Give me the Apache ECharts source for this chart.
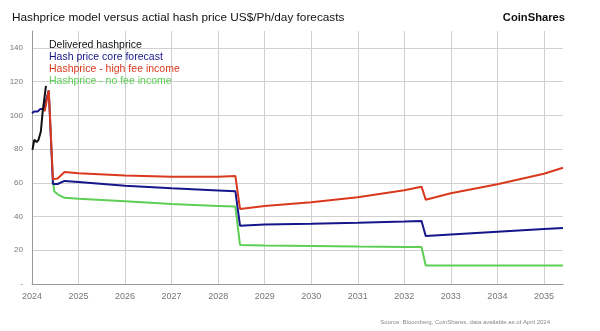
<!DOCTYPE html>
<html><head><meta charset="utf-8">
<script src="https://cdn.jsdelivr.net/npm/echarts@6/dist/echarts.min.js"></script>
<style>html,body{margin:0;padding:0;background:#fff}#c{width:600px;height:331px}</style>
</head><body><div id="c"></div>
<script>
// Data (x = decimal year, y = US$/PH/day)
const delivered = [[2024.01,79.5],[2024.05,85.5],[2024.10,84.1],[2024.14,85.5],[2024.19,90.4],[2024.23,102.3],[2024.27,111],[2024.30,117.5]];
const coreForecast = [[2024.0,101.3],[2024.05,102.3],[2024.12,102.3],[2024.18,103.7],[2024.25,103.7],[2024.28,102.8],[2024.36,114.7],[2024.45,59.3],[2024.55,59.3],[2024.70,61.1],[2025,60.5],[2026,58.3],[2027,56.8],[2028,55.5],[2028.37,55.0],[2028.47,34.6],[2029,35.3],[2030,35.7],[2031,36.3],[2032,37.0],[2032.37,37.3],[2032.46,28.4],[2033,29.3],[2034,31.0],[2035,32.6],[2035.41,33.2]];
const highFee = [[2024.27,102.3],[2024.36,114.7],[2024.45,62.1],[2024.55,62.5],[2024.70,66.4],[2025,65.7],[2026,64.3],[2027,63.6],[2028,63.6],[2028.37,64.0],[2028.47,44.5],[2029,46.3],[2030,48.4],[2031,51.5],[2032,55.6],[2032.37,57.7],[2032.46,50.0],[2033,53.8],[2034,59.2],[2035,65.4],[2035.41,68.9]];
const noFee = [[2024.45,61.0],[2024.48,54.8],[2024.59,52.5],[2024.70,51.1],[2025,50.5],[2026,49.0],[2027,47.4],[2028,46.3],[2028.37,45.9],[2028.47,23.1],[2029,22.8],[2030,22.5],[2031,22.2],[2032,22.0],[2032.37,21.9],[2032.46,11.0],[2035.41,10.9]];
const seriesNames = ['Delivered hashprice','Hash price core forecast','Hashprice - high fee income','Hashprice - no fee income'];
const seriesColors = ['#111111','#16168a','#d9391c','#5dcf55'];
const yearMin = 2024, yearMax = 2035.41;

const chart = echarts.init(document.getElementById('c'), null, {renderer:'canvas'});
const dataSets = [delivered, coreForecast, highFee, noFee];
const drawOrder = [3,1,2,0];
chart.setOption({
  animation:false,
  backgroundColor:'#fff',
  textStyle:{fontFamily:'Liberation Sans, Arial, sans-serif'},
  title:[
    {text:'Hashprice model versus actial hash price US$/Ph/day forecasts',left:7,top:7,textStyle:{fontSize:11.8,fontWeight:'normal',color:'#111',fontFamily:'Liberation Sans, Arial, sans-serif'}},
    {text:'CoinShares',right:30,top:7,textStyle:{fontSize:11.2,fontWeight:'bold',color:'#111',fontFamily:'Liberation Sans, Arial, sans-serif'}},
    {text:'Source: Bloomberg, CoinShares, data available as of April 2024',right:45,top:314,textStyle:{fontSize:6,fontWeight:'normal',color:'#888'}}
  ],
  legend:{
    orient:'vertical',left:39,top:34,itemGap:0,itemWidth:0,itemHeight:12,icon:'none',selectedMode:false,
    textStyle:{fontSize:10.5,padding:0,lineHeight:12},
    data:seriesNames.map((n,i)=>({name:n,textStyle:{color:seriesColors[i]}}))
  },
  grid:{left:32,right:37,top:31,bottom:47},
  xAxis:{type:'value',min:yearMin,max:yearMax,interval:1,
    axisLine:{show:true,lineStyle:{color:'#999',width:1}},
    axisTick:{show:false},
    axisLabel:{color:'#777',fontSize:9,margin:8,showMaxLabel:false,formatter:v=>Number.isInteger(v)?String(v):''},
    splitLine:{show:true,showMaxLine:false,lineStyle:{color:'#d0d0d0',width:1}}
  },
  yAxis:{type:'value',min:0,max:150,interval:10,
    axisLine:{show:true,lineStyle:{color:'#999',width:1}},
    axisTick:{show:false},
    axisLabel:{color:'#777',fontSize:8,margin:9,formatter:v=>v===0?'-':(v%20===0 && v<150?String(v):'')},
    splitLine:{show:true,lineStyle:{color:['#d0d0d0','rgba(0,0,0,0)'],width:1}}
  },
  series:drawOrder.map(i=>({
    name:seriesNames[i],type:'line',data:dataSets[i],showSymbol:false,symbol:'none',
    lineStyle:{color:seriesColors[i],width:2},itemStyle:{color:seriesColors[i]},z:2+drawOrder.indexOf(i)
  }))
});
</script></body></html>
